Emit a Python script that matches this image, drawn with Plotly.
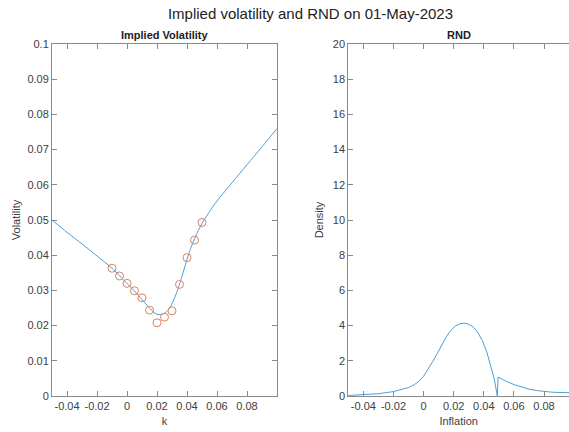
import plotly.graph_objects as go

# ---- data ----
iv_curve_k = [-0.05, -0.04, -0.03, -0.02, -0.01, -0.005, 0.0, 0.005, 0.01, 0.015, 0.0175, 0.02,
              0.0225, 0.025, 0.0275, 0.03, 0.0325, 0.035, 0.0375, 0.04, 0.0425, 0.045, 0.0475,
              0.05, 0.055, 0.06, 0.07, 0.08, 0.09, 0.1]
iv_curve_vol = [0.0500, 0.0465, 0.0432, 0.0398, 0.0363, 0.0342, 0.0320, 0.0298, 0.0274, 0.0250,
                0.0239, 0.0232, 0.0231, 0.0235, 0.0245, 0.0262, 0.0287, 0.0317, 0.0352, 0.0388,
                0.0420, 0.0446, 0.0470, 0.0490, 0.0524, 0.0554, 0.0606, 0.0657, 0.0708, 0.0760]

obs_k = [-0.01, -0.005, 0.0, 0.005, 0.01, 0.015, 0.02, 0.025, 0.03, 0.035, 0.04, 0.045, 0.05]
obs_vol = [0.0363, 0.0341, 0.0320, 0.0299, 0.0279, 0.0244, 0.0208, 0.0224, 0.0242, 0.0317,
           0.0393, 0.0443, 0.0493]

rnd_x = [-0.05, -0.04, -0.03, -0.02, -0.01, -0.006, -0.003, 0.0, 0.003, 0.006, 0.009, 0.012,
         0.015, 0.018, 0.021, 0.024, 0.027, 0.030, 0.033, 0.036, 0.039, 0.042, 0.045, 0.047,
         0.049, 0.0495, 0.052, 0.055, 0.06, 0.065, 0.07, 0.075, 0.08, 0.085, 0.09, 0.095, 0.1]
rnd_density = [0.03, 0.06, 0.13, 0.25, 0.48, 0.65, 0.85, 1.12, 1.5, 1.95, 2.4, 2.9,
               3.35, 3.72, 3.97, 4.1, 4.14, 4.08, 3.92, 3.62, 3.15, 2.5, 1.65, 0.95,
               0.0, 1.07, 0.97, 0.83, 0.65, 0.5, 0.39, 0.31, 0.25, 0.22, 0.2, 0.19, 0.18]

x_ticks = [-0.04, -0.02, 0, 0.02, 0.04, 0.06, 0.08]
x_tick_text = ["-0.04", "-0.02", "0", "0.02", "0.04", "0.06", "0.08"]
vol_ticks = [0, 0.01, 0.02, 0.03, 0.04, 0.05, 0.06, 0.07, 0.08, 0.09, 0.1]
vol_tick_text = ["0", "0.01", "0.02", "0.03", "0.04", "0.05", "0.06", "0.07", "0.08", "0.09", "0.1"]
dens_ticks = [0, 2, 4, 6, 8, 10, 12, 14, 16, 18, 20]

LINE = "#4d9fd6"
MARK = "#e0805a"
AX = "#8a8a8a"
TXT = "#404040"
FONT = "Liberation Sans, Arial, sans-serif"

fig = go.Figure()
fig.add_trace(go.Scatter(x=iv_curve_k, y=iv_curve_vol, mode="lines", line=dict(color=LINE, width=1, shape="spline", smoothing=0.8),
                         xaxis="x", yaxis="y", showlegend=False))
fig.add_trace(go.Scatter(x=obs_k, y=obs_vol, mode="markers",
                         marker=dict(symbol="circle-open", size=8, color=MARK, line=dict(width=1, color=MARK)),
                         xaxis="x", yaxis="y", showlegend=False))
fig.add_trace(go.Scatter(x=rnd_x, y=rnd_density, mode="lines", line=dict(color=LINE, width=1),
                         xaxis="x2", yaxis="y2", showlegend=False))

common = dict(showgrid=False, zeroline=False, showline=True, linecolor=AX, linewidth=1,
              ticks="inside", ticklen=5, tickcolor=AX, tickwidth=1,
              tickfont=dict(size=11, color=TXT, family=FONT))

fig.update_layout(
    width=569, height=432,
    margin=dict(l=52, r=0, t=44, b=36),
    paper_bgcolor="white", plot_bgcolor="white",
    font=dict(family=FONT, color=TXT),
    title=dict(text="Implied volatility and RND on 01-May-2023", x=0.5, xanchor="center",
               y=1 - 14 / 432, yanchor="middle", xref="paper",
               font=dict(size=15, color="#222222", family=FONT)),
    xaxis=dict(domain=[0, 0.4352], range=[-0.05, 0.1], tickvals=x_ticks, ticktext=x_tick_text,
               mirror="ticks", anchor="y",
               title=dict(text="k", font=dict(size=11, color=TXT, family=FONT), standoff=6), **common),
    yaxis=dict(domain=[0, 1], range=[0, 0.1], tickvals=vol_ticks, ticktext=vol_tick_text,
               mirror="ticks", anchor="x",
               title=dict(text="Volatility", font=dict(size=11, color=TXT, family=FONT), standoff=4), **common),
    xaxis2=dict(domain=[0.5731, 1], range=[-0.05, 0.0966], tickvals=x_ticks, ticktext=x_tick_text,
                mirror="ticks", anchor="y2",
                title=dict(text="Inflation", font=dict(size=11, color=TXT, family=FONT), standoff=6), **common),
    yaxis2=dict(domain=[0, 1], range=[0, 20], tickvals=dens_ticks, anchor="x2", mirror=False,
                title=dict(text="Density", font=dict(size=11, color=TXT, family=FONT), standoff=6), **common),
    annotations=[
        dict(text="<b>Implied Volatility</b>", x=0.2176, y=1, xref="paper", yref="paper",
             xanchor="center", yanchor="bottom", yshift=1, showarrow=False,
             font=dict(size=11, color="#222222", family=FONT)),
        dict(text="<b>RND</b>", x=(0.5731 + 1.0) / 2, y=1, xref="paper", yref="paper",
             xanchor="center", yanchor="bottom", yshift=1, showarrow=False,
             font=dict(size=11, color="#222222", family=FONT)),
    ],
)

fig.write_html("out.html", config={"displayModeBar": False},
               post_script="document.body.style.margin='0px';document.body.style.padding='0px';document.body.style.overflow='hidden';")
